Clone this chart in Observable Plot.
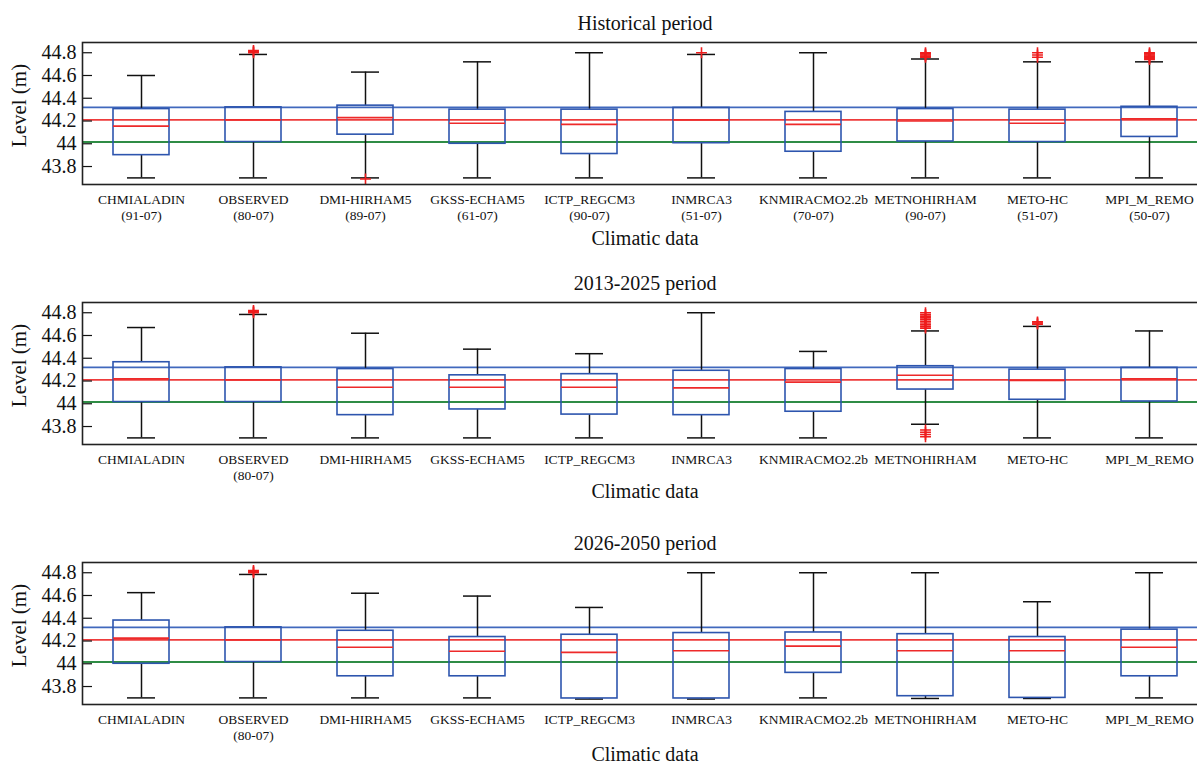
<!DOCTYPE html>
<html>
<head>
<meta charset="utf-8">
<script src="https://cdn.jsdelivr.net/npm/d3@7"></script>
<script src="https://cdn.jsdelivr.net/npm/@observablehq/plot@0.6"></script>
<style>
  html, body { margin: 0; padding: 0; background: #fff; overflow: hidden; }
  #wrap { width: 1210px; }
  #wrap svg { display: block; }
  #wrap svg text { font-family: 'Liberation Serif', 'Times New Roman', serif; }
</style>
</head>
<body>
<div id="wrap"></div>
<script>
// ---------- data ----------
const models = ["CHMIALADIN","OBSERVED","DMI-HIRHAM5","GKSS-ECHAM5","ICTP_REGCM3","INMRCA3","KNMIRACMO2.2b","METNOHIRHAM","METO-HC","MPI_M_REMO"];
const histYears = ["(91-07)","(80-07)","(89-07)","(61-07)","(90-07)","(51-07)","(70-07)","(90-07)","(51-07)","(50-07)"];
const futYears  = ["","(80-07)","","","","","","","",""];
const panelTitles = ["Historical period","2013-2025 period","2026-2050 period"];

// reference levels (observed quartiles / median)
const refLevels = [44.32, 44.21, 44.015];
const refColors = ["#4068bd", "#ee3b3b", "#2f8c45"];

const yTicks = [43.8, 44, 44.2, 44.4, 44.6, 44.8];

// Historical period
const histLo  = [43.70, 43.70, 43.70, 43.70, 43.70, 43.70, 43.70, 43.70, 43.70, 43.70];
const histQ1  = [43.90, 44.015, 44.08, 44.00, 43.91, 44.005, 43.93, 44.02, 44.015, 44.06];
const histMed = [44.155, 44.21, 44.23, 44.18, 44.17, 44.21, 44.17, 44.20, 44.18, 44.22];
const histQ3  = [44.305, 44.32, 44.335, 44.30, 44.30, 44.315, 44.28, 44.305, 44.30, 44.325];
const histHi  = [44.60, 44.785, 44.63, 44.72, 44.80, 44.785, 44.80, 44.745, 44.72, 44.72];
const histOut = [[], [44.80, 44.81, 44.82], [43.69], [], [], [44.80], [],
                 [44.76, 44.77, 44.78, 44.79, 44.80], [44.76, 44.78, 44.80],
                 [44.74, 44.75, 44.76, 44.77, 44.78, 44.79, 44.80]];

// 2013-2025 period
const p2Lo  = [43.70, 43.70, 43.70, 43.70, 43.70, 43.70, 43.70, 43.82, 43.70, 43.70];
const p2Q1  = [44.015, 44.015, 43.90, 43.95, 43.905, 43.90, 43.93, 44.125, 44.035, 44.02];
const p2Med = [44.22, 44.21, 44.145, 44.145, 44.145, 44.14, 44.19, 44.25, 44.205, 44.22];
const p2Q3  = [44.365, 44.32, 44.305, 44.25, 44.26, 44.29, 44.305, 44.33, 44.30, 44.315];
const p2Hi  = [44.67, 44.785, 44.62, 44.48, 44.44, 44.80, 44.46, 44.64, 44.68, 44.64];
const p2Out = [[], [44.80, 44.81, 44.82], [], [], [], [], [],
               [44.665, 44.68, 44.695, 44.71, 44.725, 44.74, 44.755, 44.77, 44.785, 44.80,
                43.71, 43.73, 43.75, 43.77],
               [44.70, 44.71, 44.72], []];

// 2026-2050 period
const p3Lo  = [43.70, 43.70, 43.70, 43.70, 43.69, 43.69, 43.70, 43.695, 43.695, 43.70];
const p3Q1  = [44.00, 44.015, 43.89, 43.89, 43.695, 43.695, 43.92, 43.715, 43.70, 43.89];
const p3Med = [44.225, 44.21, 44.145, 44.11, 44.10, 44.115, 44.155, 44.115, 44.115, 44.145];
const p3Q3  = [44.38, 44.32, 44.29, 44.235, 44.255, 44.27, 44.275, 44.26, 44.235, 44.30];
const p3Hi  = [44.625, 44.785, 44.62, 44.595, 44.495, 44.80, 44.80, 44.80, 44.545, 44.80];
const p3Out = [[], [44.80, 44.81, 44.82], [], [], [], [], [], [], [], []];

// ---------- build ----------
function rows(lo, q1, med, q3, hi) {
  return models.map((m, i) => ({name: m, lo: lo[i], q1: q1[i], med: med[i], q3: q3[i], hi: hi[i]}));
}
function outRows(out) {
  return out.flatMap((vals, i) => vals.map(v => ({name: models[i], v})));
}

const panels = [
  {title: panelTitles[0], years: histYears, data: rows(histLo, histQ1, histMed, histQ3, histHi), out: outRows(histOut), xlabDy: 46},
  {title: panelTitles[1], years: futYears,  data: rows(p2Lo, p2Q1, p2Med, p2Q3, p2Hi), out: outRows(p2Out), xlabDy: 39},
  {title: panelTitles[2], years: futYears,  data: rows(p3Lo, p3Q1, p3Med, p3Q3, p3Hi), out: outRows(p3Out), xlabDy: 42}
];

const serif = "'Liberation Serif', 'Times New Roman', serif";
const boxBlue = "#2d55ae";
const FRAME_W = 1125;

panels.forEach((p, k) => {
  const labelOf = new Map(models.map((m, i) => [m, p.years[i] ? m + "\n" + p.years[i] : m]));
  const chart = Plot.plot({
    width: 1210,
    height: k === 2 ? 244 : 260,
    marginLeft: 82,
    marginRight: 3,
    marginTop: 42,
    marginBottom: k === 2 ? 60 : 76,
    style: {fontFamily: serif, fontSize: "20px", color: "#111", background: "#fff", maxWidth: "none", overflow: "visible"},
    x: {domain: models, paddingInner: 0.5, paddingOuter: 0.25, axis: null},
    y: {domain: [43.642, 44.89], axis: null},
    marks: [
      // reference lines
      Plot.ruleY(refLevels, {y: d => d, stroke: (d, i) => refColors[i], strokeWidth: 1.9}),
      // whiskers
      Plot.ruleX(p.data, {x: "name", y1: "lo", y2: "q1", stroke: "#111", strokeWidth: 1.5}),
      Plot.ruleX(p.data, {x: "name", y1: "q3", y2: "hi", stroke: "#111", strokeWidth: 1.5}),
      Plot.tickY(p.data, {x: "name", y: "lo", stroke: "#111", strokeWidth: 1.5, insetLeft: 14, insetRight: 14}),
      Plot.tickY(p.data, {x: "name", y: "hi", stroke: "#111", strokeWidth: 1.5, insetLeft: 14, insetRight: 14}),
      // boxes
      Plot.barY(p.data, {x: "name", y1: "q1", y2: "q3", fill: "none", stroke: boxBlue, strokeWidth: 1.6}),
      // medians
      Plot.tickY(p.data, {x: "name", y: "med", stroke: "#ee2a2a", strokeWidth: 1.6}),
      // outliers
      Plot.dot(p.out, {x: "name", y: "v", symbol: "plus", r: 3.6, stroke: "#ee1c1c", strokeWidth: 1.6}),
      // inward ticks left & right
      Plot.ruleY(yTicks, {y: d => d, insetRight: FRAME_W - 10, stroke: "#111", strokeWidth: 1.2}),
      Plot.ruleY(yTicks, {y: d => d, insetLeft: FRAME_W - 10, stroke: "#111", strokeWidth: 1.2}),
      // y tick labels
      Plot.axisY({ticks: yTicks, tickSize: 0, tickPadding: 6, tickFormat: d => String(+d.toFixed(1)), label: null, fontSize: 20, fontFamily: serif, fontVariant: "normal"}),
      // frame
      Plot.frame({stroke: "#222", strokeWidth: 1.6}),
      // x tick labels
      Plot.text(models, {x: d => d, text: d => labelOf.get(d), frameAnchor: "bottom", lineAnchor: "top", dy: 7.5, fontSize: 13.5, lineHeight: 1.2, fill: "#111", fontFamily: serif}),
      // x axis title
      Plot.text(["Climatic data"], {text: d => d, frameAnchor: "bottom", lineAnchor: "top", dy: p.xlabDy, fontSize: 20, fill: "#111", fontFamily: serif}),
      // y axis title
      Plot.text(["Level (m)"], {text: d => d, frameAnchor: "left", textAnchor: "middle", lineAnchor: "middle", rotate: -90, dx: -63.5, dy: -8, fontSize: 21, fill: "#111", fontFamily: serif}),
      // panel title
      Plot.text([p.title], {text: d => d, frameAnchor: "top", lineAnchor: "middle", dy: -18.5, fontSize: 20, fill: "#111", fontFamily: serif})
    ]
  });
  document.getElementById("wrap").appendChild(chart);
});
</script>
</body>
</html>
